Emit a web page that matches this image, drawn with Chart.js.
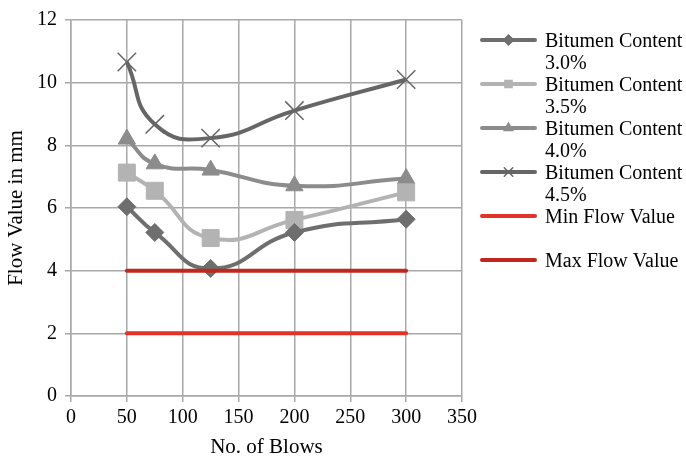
<!DOCTYPE html>
<html>
<head>
<meta charset="utf-8">
<script src="https://cdn.jsdelivr.net/npm/chart.js@4/dist/chart.umd.min.js"></script>
<style>
  html, body { margin: 0; padding: 0; background: #fff; }
  #wrap { width: 686px; height: 460px; position: relative; }
</style>
</head>
<body>
<div id="wrap"><canvas id="flowChart" width="686" height="460"></canvas></div>
<script>
// x values (No. of Blows)
var blows = [50, 75, 125, 200, 300];
// flow values per bitumen content
var flow30 = [6.04, 5.22, 4.07, 5.22, 5.64];
var flow35 = [7.13, 6.55, 5.04, 5.62, 6.5];
var flow40 = [8.2, 7.41, 7.21, 6.71, 6.94];
var flow45 = [10.66, 8.67, 8.23, 9.11, 10.1];
// limit lines
var limitX = [50, 300];
var minFlow = [2, 2];
var maxFlow = [4, 4];
var seriesNames = [
  ['Bitumen Content', '3.0%'],
  ['Bitumen Content', '3.5%'],
  ['Bitumen Content', '4.0%'],
  ['Bitumen Content', '4.5%'],
  ['Min Flow Value'],
  ['Max Flow Value']
];
var yTicks = [0, 2, 4, 6, 8, 10, 12];

var serif = "'Liberation Serif', 'Times New Roman', serif";
var gridColor = '#a8a8a8';

function pts(xs, ys) {
  return xs.map(function(x, i) { return { x: x, y: ys[i] }; });
}

function curve(label, ys, color, style, radius, bw) {
  return {
    label: label,
    data: pts(blows, ys),
    borderColor: color,
    backgroundColor: color,
    borderWidth: 4,
    tension: 0.5,
    pointStyle: style,
    pointRadius: radius,
    pointBorderWidth: bw,
    pointBackgroundColor: color,
    pointBorderColor: color,
    order: 1
  };
}

function flat(label, ys, color) {
  return {
    label: label,
    data: pts(limitX, ys),
    borderColor: color,
    backgroundColor: color,
    borderWidth: 4,
    borderCapStyle: 'round',
    pointRadius: 0,
    pointStyle: false,
    order: 0
  };
}

// legend drawn by hand: line + marker, wrapped text
var sideLegend = {
  id: 'sideLegend',
  afterDraw: function(chart) {
    var ctx = chart.ctx;
    var x0 = 482, x1 = 535, tx = 545, y = 40, step = 44;
    ctx.save();
    ctx.font = '20px ' + serif;
    ctx.textBaseline = 'middle';
    chart.data.datasets.forEach(function(ds, i) {
      var yy = y + i * step;
      ctx.strokeStyle = ds.borderColor;
      ctx.lineWidth = 4;
      ctx.lineCap = 'round';
      ctx.beginPath();
      ctx.moveTo(x0, yy);
      ctx.lineTo(x1, yy);
      ctx.stroke();
      if (ds.pointStyle) {
        ctx.fillStyle = ds.borderColor;
        ctx.strokeStyle = ds.borderColor;
        ctx.lineWidth = 1.5;
        Chart.helpers.drawPoint(ctx, { pointStyle: ds.pointStyle, radius: ds.pointStyle === 'crossRot' ? 6 : 5, borderWidth: 1 }, (x0 + x1) / 2, yy);
      }
      ctx.fillStyle = '#000';
      seriesNames[i].forEach(function(t, k) {
        ctx.fillText(t, tx, yy + 2 + k * 22);
      });
    });
    ctx.restore();
  }
};

new Chart(document.getElementById('flowChart'), {
  type: 'line',
  data: {
    datasets: [
      curve(seriesNames[0].join(' '), flow30, '#6e6e6e', 'rectRot', 9, 1),
      curve(seriesNames[1].join(' '), flow35, '#b3b3b3', 'rect', 12, 1),
      curve(seriesNames[2].join(' '), flow40, '#8c8c8c', 'triangle', 10, 1),
      curve(seriesNames[3].join(' '), flow45, '#666666', 'crossRot', 13, 1.5),
      flat(seriesNames[4][0], minFlow, '#e1332a'),
      flat(seriesNames[5][0], maxFlow, '#c0271e')
    ]
  },
  options: {
    responsive: false,
    animation: false,
    layout: { padding: { top: 17, right: 224, left: 0, bottom: 0 } },
    plugins: {
      legend: { display: false },
      tooltip: { enabled: false }
    },
    scales: {
      x: {
        type: 'linear',
        min: 0,
        max: 350,
        ticks: { stepSize: 50, color: '#000', padding: 4, font: { family: serif, size: 20 } },
        grid: { color: gridColor, lineWidth: 1.5, tickLength: 6 },
        border: { color: gridColor, width: 1.5 },
        title: { display: true, text: 'No. of Blows', color: '#000', font: { family: serif, size: 21 }, padding: { top: 0, bottom: 0 } },
        afterFit: function(s) { s.height = 64; }
      },
      y: {
        min: 0,
        max: 12,
        afterBuildTicks: function(s) { s.ticks = yTicks.map(function(v) { return { value: v }; }); },
        ticks: { color: '#000', padding: 8, font: { family: serif, size: 20 } },
        grid: { color: gridColor, lineWidth: 1.5, tickLength: 6 },
        border: { color: gridColor, width: 1.5 },
        title: { display: true, text: 'Flow Value in mm', color: '#000', font: { family: serif, size: 21 }, padding: { top: 4, bottom: 0 } },
        afterFit: function(s) { s.width = 71; }
      }
    }
  },
  plugins: [sideLegend]
});
</script>
</body>
</html>
